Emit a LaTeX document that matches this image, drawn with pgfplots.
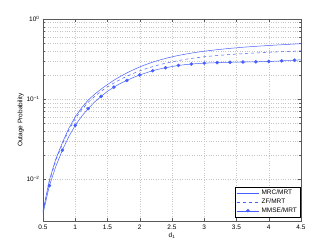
\documentclass[border=0pt]{standalone}
\usepackage{fontspec}
\setmainfont{Liberation Sans}
\usepackage{pgfplots}
\pgfplotsset{compat=1.18}
\definecolor{mblue}{RGB}{70,95,255}

\pgfplotstableread{
x mrc zf
0.5 0.0040 0.0039
0.6 0.0098 0.0094
0.7 0.0180 0.0172
0.8 0.0285 0.0272
0.9 0.0430 0.0410
1.0 0.0600 0.0570
1.1 0.0780 0.0740
1.2 0.0970 0.0910
1.3 0.1150 0.1080
1.4 0.1330 0.1250
1.5 0.1520 0.1420
1.6 0.1720 0.1590
1.7 0.1920 0.1760
1.8 0.2120 0.1930
1.9 0.2320 0.2090
2.0 0.2520 0.2250
2.1 0.2710 0.2400
2.2 0.2890 0.2540
2.3 0.3060 0.2680
2.4 0.3220 0.2800
2.5 0.3370 0.2920
2.6 0.3510 0.3030
2.7 0.3630 0.3130
2.8 0.3750 0.3220
2.9 0.3860 0.3300
3.0 0.3960 0.3380
3.2 0.4140 0.3500
3.4 0.4300 0.3600
3.6 0.4440 0.3690
3.8 0.4560 0.3770
4.0 0.4670 0.3840
4.2 0.4770 0.3900
4.4 0.4870 0.3960
4.5 0.4920 0.4000
}\tabA

\pgfplotstableread{
x mmse
0.5 0.0037
0.6 0.0083
0.7 0.0145
0.8 0.0230
0.9 0.0340
1.0 0.0470
1.1 0.0610
1.2 0.0760
1.3 0.0920
1.4 0.1080
1.5 0.1250
1.6 0.1410
1.7 0.1570
1.8 0.1710
1.9 0.1860
2.0 0.2000
2.1 0.2130
2.2 0.2260
2.3 0.2370
2.4 0.2460
2.5 0.2550
2.6 0.2630
2.7 0.2690
2.8 0.2740
2.9 0.2780
3.0 0.2810
3.1 0.2830
3.2 0.2850
3.3 0.2870
3.4 0.2880
3.5 0.2890
3.6 0.2900
3.7 0.2910
3.8 0.2920
3.9 0.2930
4.0 0.2950
4.1 0.2970
4.2 0.3000
4.3 0.3030
4.4 0.3060
4.5 0.3090
}\tabB

\begin{document}
\begin{tikzpicture}
\useasboundingbox (-43pt,-29pt) rectangle (289pt,221pt);
\begin{axis}[
    at={(0,0)}, anchor=south west,
    scale only axis,
    width=258pt, height=202pt,
    ymode=log,
    xmin=0.5, xmax=4.5,
    ymin=0.003, ymax=1,
    xtick={0.5,1,1.5,2,2.5,3,3.5,4,4.5},
    xticklabels={0.5,1,1.5,2,2.5,3,3.5,4,4.5},
    ytick={0.01,0.1,1},
    yticklabels={10\textsuperscript{−2},10\textsuperscript{−1},10\textsuperscript{0}},
    tick label style={font=\fontsize{6.5}{7}\selectfont},
    label style={font=\fontsize{6.5}{7}\selectfont},
    xlabel={d\textsubscript{1}},
    ylabel={Outage Probability},
    xlabel style={yshift=3pt},
    ylabel style={yshift=-4pt},
    grid=both,
    major grid style={gray!45, dotted, line width=0.35pt},
    minor grid style={gray!45, dotted, line width=0.35pt},
    tick align=inside,
    major tick length=3pt,
    minor tick length=1.8pt,
    tick style={gray!70!black, line width=0.4pt},
    axis line style={gray!70!black, line width=0.5pt},
    legend style={
        at={(rel axis cs:1,0)}, anchor=south east,
        xshift=-1pt, yshift=4pt,
        font=\fontsize{6.5}{7}\selectfont,
        inner sep=1pt, row sep=-1.5pt,
        legend cell align=left,
    },
    legend image code/.code={%
        \draw[mark repeat=2,mark phase=2,#1]
        plot coordinates {(0cm,0cm) (0.4cm,0cm) (0.8cm,0cm)};},
    legend image post style={line width=0.4pt},
]
\addplot[mblue, line width=0.5pt] table[x=x, y=mrc] {\tabA};
\addlegendentry{MRC/MRT}
\addplot[mblue, line width=0.5pt, dashed] table[x=x, y=zf] {\tabA};
\addlegendentry{ZF/MRT}
\addplot[mblue, line width=0.5pt, mark=*, mark size=1.5pt,
    mark repeat=2, mark phase=2] table[x=x, y=mmse] {\tabB};
\addlegendentry{MMSE/MRT}
\end{axis}
\end{tikzpicture}
\end{document}
